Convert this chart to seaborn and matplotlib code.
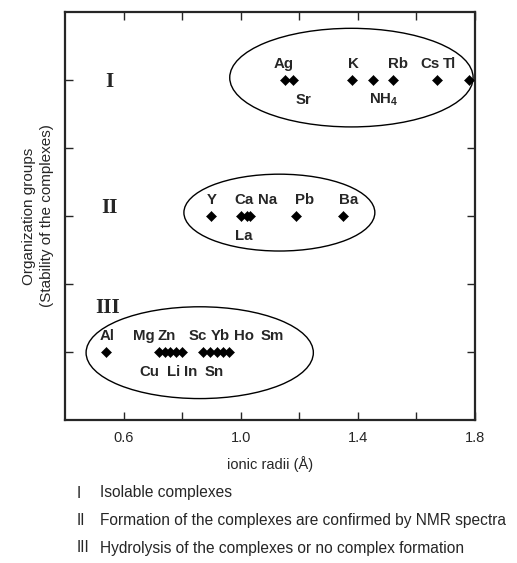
import matplotlib
matplotlib.use("Agg")
import matplotlib.pyplot as plt
import pandas as pd
import seaborn as sns
from matplotlib.patches import Ellipse

# ionic radii (Å), one list per organization group
group_I_ions = ["Ag", "Sr", "K", "NH$_4$", "Rb", "Cs", "Tl"]
group_I_radii = [1.15, 1.18, 1.38, 1.45, 1.52, 1.67, 1.78]

group_II_ions = ["Y", "Ca", "Na", "La", "Pb", "Ba"]
group_II_radii = [0.90, 1.00, 1.02, 1.03, 1.19, 1.35]

group_III_ions = ["Al", "Mg", "Cu", "Zn", "Li", "In", "Sc", "Sn", "Yb", "Ho", "Sm"]
group_III_radii = [0.54, 0.72, 0.74, 0.76, 0.78, 0.80, 0.87, 0.895, 0.92, 0.94, 0.96]

group_names = ["I", "II", "III"]
group_levels = [5, 3, 1]

legend_lines = [
    ("I", "Isolable complexes"),
    ("II", "Formation of the complexes are confirmed by NMR spectra"),
    ("III", "Hydrolysis of the complexes or no complex formation"),
]

x_ticks = [0.6, 0.8, 1.0, 1.2, 1.4, 1.6, 1.8]
x_ticklabels = ["0.6", "", "1.0", "", "1.4", "", "1.8"]

# where each ion name sits: (label x, above/below the marker)
label_place = {
    "Ag": (1.148, "up"), "Sr": (1.214, "down"), "K": (1.384, "up"),
    "NH$_4$": (1.487, "down"), "Rb": (1.538, "up"), "Cs": (1.646, "up"),
    "Tl": (1.712, "up"),
    "Y": (0.90, "up"), "Ca": (1.011, "up"), "Na": (1.093, "up"),
    "La": (1.011, "down"), "Pb": (1.219, "up"), "Ba": (1.37, "up"),
    "Al": (0.544, "up"), "Mg": (0.670, "up"), "Zn": (0.747, "up"),
    "Sc": (0.852, "up"), "Yb": (0.932, "up"), "Ho": (1.012, "up"),
    "Sm": (1.108, "up"), "Cu": (0.688, "down"), "Li": (0.77, "down"),
    "In": (0.83, "down"), "Sn": (0.909, "down"),
}

# ellipses: (center x, center y, width, height) in data units
ellipses = [(1.378, 5.035, 0.831, 1.45), (1.132, 3.05, 0.652, 1.13), (0.86, 0.99, 0.776, 1.35)]
numeral_pos = [(0.553, 4.97), (0.553, 3.12), (0.545, 1.65)]

rows = []
for ions, radii, lvl in zip([group_I_ions, group_II_ions, group_III_ions],
                            [group_I_radii, group_II_radii, group_III_radii], group_levels):
    for ion, r in zip(ions, radii):
        rows.append({"ion": ion, "radius": r, "group": lvl})
df = pd.DataFrame(rows)

sns.set_style("ticks")
plt.rcParams["font.family"] = ["Liberation Sans", "DejaVu Sans"]
plt.rcParams["mathtext.fontset"] = "custom"
plt.rcParams["mathtext.rm"] = "Liberation Sans:bold"
plt.rcParams["mathtext.it"] = "Liberation Sans:bold"
plt.rcParams["mathtext.bf"] = "Liberation Sans:bold"

fig = plt.figure(figsize=(5.17, 5.63), dpi=100)
ax = fig.add_axes([65 / 517, 1 - 420 / 563, 410 / 517, 408 / 563])

sns.scatterplot(data=df, x="radius", y="group", marker="D", color="black",
                edgecolor="black", s=26, ax=ax, legend=False, zorder=3, clip_on=False)

for _, r in df.iterrows():
    lx, side = label_place[r["ion"]]
    dy = 11.5 if side == "up" else -14.5
    ax.annotate(r["ion"], (lx, r["group"]), xytext=(0, dy), textcoords="offset points",
                ha="center", va="center", fontsize=10.8, fontweight="bold")

for cx, cy, w, h in ellipses:
    ax.add_patch(Ellipse((cx, cy), w, h, fill=False, edgecolor="black", linewidth=1.0))

for name, (nx, ny) in zip(group_names, numeral_pos):
    ax.text(nx, ny, name, ha="center", va="center", fontsize=15, fontweight="bold",
            family=["Liberation Serif", "DejaVu Serif"])

ax.set_xlim(0.4, 1.8)
ax.set_ylim(0, 6)
ax.set_xticks(x_ticks)
ax.set_xticklabels(x_ticklabels, fontsize=10.5)
ax.set_yticks(group_levels + [2, 4])
ax.set_yticklabels([])
ax.tick_params(direction="in", length=6, width=1.0, top=True, right=True, pad=8)
for sp in ax.spines.values():
    sp.set_linewidth(1.6)
    sp.set_visible(True)

ax.set_xlabel("ionic radii (Å)", fontsize=10.5, labelpad=8)
ax.set_ylabel("Organization groups\n(Stability of the complexes)", fontsize=11,
              labelpad=0, linespacing=1.35)

for i, (num, desc) in enumerate(legend_lines):
    y = 1 - (493 + 27.5 * i) / 563
    fig.text(77 / 517, y, num, ha="left", va="center", fontsize=11.2)
    fig.text(100 / 517, y, desc, ha="left", va="center", fontsize=11.2)

fig.savefig("out.png", dpi=100)
